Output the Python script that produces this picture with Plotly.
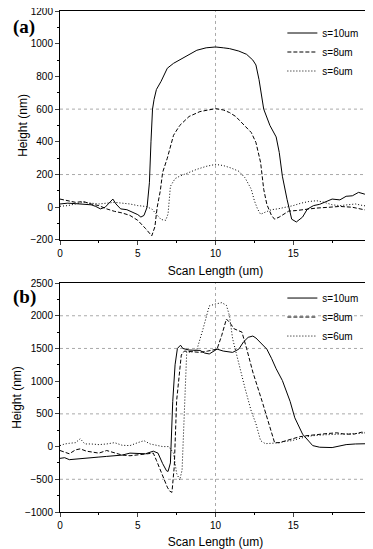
import plotly.graph_objects as go

# ---------------- data ----------------
xa10 = [0, 0.5, 1, 1.5, 2, 2.3, 2.6, 2.9, 3.2, 3.4, 3.6, 3.9, 4.3, 4.7, 5.0, 5.2, 5.4, 5.6, 5.75, 5.85, 5.95, 6.05,
        6.2, 6.5, 6.9, 7.3, 7.7, 8.2, 8.8, 9.4, 10, 10.5, 10.9, 11.5, 12.0, 12.4, 12.6, 12.8, 13.1, 13.5, 13.9, 14.1,
        14.3, 14.6, 14.9, 15.2, 15.6, 15.9, 16.3, 16.7, 17.1, 17.5, 18.0, 18.4, 18.8, 19.2, 19.6, 20]
ya10 = [20, 25, 22, 20, 15, 5, -10, 0, 30, 50, 20, -10, -15, -30, -45, -60, -50, 0, 150, 400, 600, 660,
        720, 770, 850, 880, 902, 925, 960, 975, 980, 975, 970, 955, 935, 900, 870, 780, 600, 500, 430, 335,
        190, 49, -73, -90, -60, -12, 10, 18, 35, 50, 45, 67, 70, 91, 80, 85]

xa8 = [0, 0.5, 1, 1.5, 2, 2.5, 3, 3.5, 4, 4.5, 5, 5.5, 5.9, 6.1, 6.25, 6.45, 6.6, 6.9, 7.3, 7.7, 8.3, 9.0, 10,
       10.5, 10.9, 11.3, 11.7, 12.0, 12.3, 12.6, 12.9, 13.1, 13.3, 13.6, 13.8, 14.1, 14.7, 15.2, 15.8, 16.5, 17.3,
       18, 18.8, 19.4, 20]
ya8 = [50, 40, 30, 35, 20, 10, -10, -25, -35, -50, -80, -130, -175, -120, 0, 100, 213, 300, 440, 500, 555, 585, 603,
       595, 579, 555, 518, 490, 457, 396, 274, 110, 18, -50, -73, -60, -24, -20, -12, -5, 0,
       5, 0, -10, -24]

xa6 = [0, 0.5, 1, 1.5, 2, 2.5, 3, 3.5, 4, 4.5, 5, 5.5, 5.9, 6.2, 6.5, 6.8, 6.95, 7.1, 7.4, 7.7, 8.3, 8.8, 9.4, 10,
       10.5, 11, 11.5, 11.9, 12.3, 12.5, 12.7, 12.9, 13.2, 13.6, 14, 14.5, 15, 15.5, 16, 16.5, 17, 17.5, 18, 18.5,
       19, 19.5, 20]
ya6 = [6, 10, 20, 30, 25, 20, 25, 30, 25, 20, 10, 5, -10, -40, -75, -80, -40, 128, 175, 190, 213, 232, 250, 262,
       255, 240, 220, 180, 110, 40, -10, -43, -30, -15, -10, 0, 10, 25, 35, 40, 30, 15, 10, 15,
       20, 10, 5]

xb10 = [0, 0.3, 0.6, 1, 1.5, 2, 2.5, 3, 3.5, 4, 4.5, 5, 5.5, 6, 6.3, 6.6, 6.85, 6.95, 7.1, 7.25, 7.4, 7.55, 7.75,
        7.9, 8.3, 9.0, 9.3, 9.6, 10.1, 10.5, 11.1, 11.5, 11.8, 12.1, 12.4, 12.6, 13.0, 13.3, 13.6, 13.9, 14.3, 14.8,
        15.1, 15.6, 16.25, 16.7, 17.5, 18.0, 18.4, 19, 20]
yb10 = [-180, -170, -200, -190, -175, -170, -160, -150, -136, -130, -100, -110, -110, -70, -100, -260, -370, -380,
        -250, 690, 1250, 1500, 1550, 1500, 1476, 1470, 1430, 1416, 1490, 1460, 1440, 1490, 1600, 1670, 1690, 1660,
        1560, 1490, 1350, 1190, 1010, 690, 440, 190, 15, -10, -15, 10, 30, 40, 45]

xb8 = [0, 0.3, 0.6, 1, 1.3, 1.7, 2, 2.5, 3, 3.5, 4, 4.5, 5, 5.5, 6, 6.2, 6.6, 6.9, 7.05, 7.2, 7.35, 7.5, 7.8, 8.0,
       8.5, 9.0, 9.5, 10.1, 10.4, 10.7, 10.9, 11.2, 11.4, 11.7, 12.0, 12.4, 13.0, 13.5, 13.8, 14.1, 14.5, 14.9,
       15.4, 15.8, 16.3, 16.7, 17.2, 17.8, 18.3, 18.9, 19.4, 20]
yb8 = [-60, -90, -110, -50, -35, -70, -80, -100, -60, -100, -130, -140, -130, -110, -100, -210, -460, -620, -680,
       -700, -300, 700, 1400, 1460, 1450, 1440, 1460, 1490, 1700, 1950, 1900, 1800, 1780, 1750, 1500, 1140, 690,
       290, 60, 60, 90, 120, 150, 165, 180, 190, 200, 210, 190, 190, 220, 210]

xb6 = [0, 0.3, 0.6, 1, 1.3, 1.6, 2, 2.5, 3, 3.5, 4, 4.5, 5, 5.4, 5.8, 6.2, 6.6, 7.0, 7.3, 7.5, 7.7, 7.85, 8.0, 8.15,
       8.4, 8.8, 9.2, 9.6, 10.0, 10.4, 10.7, 10.9, 11.1, 11.5, 11.9, 12.3, 12.6, 12.9, 13.2, 13.6, 14.1, 14.5,
       14.9, 15.5, 16.2, 17, 17.8, 18.5, 19.2, 20]
yb6 = [15, 40, 50, 60, 120, 40, 40, 30, 40, 60, 20, 15, 60, 90, 40, 15, 0, 0, -100, -410, -510, -360, 690, 1450,
       1440, 1480, 1800, 2150, 2180, 2200, 2160, 2000, 1650, 1250, 890, 540, 350, 90, 45, 50, 60, 80,
       90, 130, 165, 180, 190, 200, 200, 210]

series_names = ["s=10um", "s=8um", "s=6um"]
dashes = ["solid", "4px,2px", "1px,2px"]

# ---------------- figure ----------------
fig = go.Figure()
panel_a = [(xa10, ya10), (xa8, ya8), (xa6, ya6)]
panel_b = [(xb10, yb10), (xb8, yb8), (xb6, yb6)]
for (x, y), name, d in zip(panel_a, series_names, dashes):
    fig.add_trace(go.Scatter(x=x, y=y, name=name, mode="lines",
                             line=dict(color="black", width=1, dash=d),
                             xaxis="x", yaxis="y", legend="legend"))
for (x, y), name, d in zip(panel_b, series_names, dashes):
    fig.add_trace(go.Scatter(x=x, y=y, name=name, mode="lines",
                             line=dict(color="black", width=1, dash=d),
                             xaxis="x2", yaxis="y2", legend="legend2"))

tickfont = dict(family="Liberation Sans, Arial", size=10, color="black")
titlefont = dict(family="Liberation Sans, Arial", size=12, color="black")

def xax(anchor):
    return dict(range=[0, 20], dtick=5, tick0=0, ticks="outside", ticklen=4, tickwidth=1,
                minor=dict(ticks="outside", ticklen=2, dtick=2.5, tickcolor="black"),
                showline=True, linecolor="black", linewidth=1, mirror=True, showgrid=False,
                zeroline=False, tickfont=tickfont, anchor=anchor, automargin=False,
                ticklabeloverflow="allow",
                title=dict(text="Scan Length (um)", font=titlefont, standoff=8))

def yax(rng, dt, dom, anchor):
    return dict(range=rng, dtick=dt, tick0=0, ticks="outside", ticklen=4, tickwidth=1,
                minor=dict(ticks="outside", ticklen=2, dtick=dt / 2, tickcolor="black"),
                showline=True, linecolor="black", linewidth=1, mirror=True, showgrid=False,
                zeroline=False, tickfont=tickfont, domain=dom, anchor=anchor, automargin=False,
                ticklabeloverflow="allow",
                title=dict(text="Height (nm)", font=titlefont, standoff=0))

legend_common = dict(font=dict(family="Liberation Sans, Arial", size=10, color="black"),
                     bgcolor="rgba(0,0,0,0)", borderwidth=0, tracegroupgap=0,
                     itemwidth=30, xanchor="left", yanchor="top")

# page body has an 8px margin, so the figure is sized/placed to compensate
fig.update_layout(
    width=365, height=541,
    margin=dict(l=52, r=2, t=3, b=37, autoexpand=False),
    paper_bgcolor="white", plot_bgcolor="white",
    xaxis=xax("y"),
    yaxis=yax([-200, 1200], 200, [0.543, 1.0], "x"),
    xaxis2=xax("y2"),
    yaxis2=yax([-1000, 2500], 500, [0.0, 0.457], "x2"),
    legend=dict(x=0.715, y=0.985, **legend_common),
    legend2=dict(x=0.715, y=0.456, **legend_common),
    showlegend=True,
)

grid_style = dict(color="#aaaaaa", width=1, dash="dot")
for yv in [200, 600]:
    fig.add_shape(type="line", xref="x", yref="y", x0=0, x1=20, y0=yv, y1=yv, line=grid_style, layer="below")
fig.add_shape(type="line", xref="x", yref="y", x0=10, x1=10, y0=-200, y1=1200, line=grid_style, layer="below")
for yv in [2000, 1500, 500, -500]:
    fig.add_shape(type="line", xref="x2", yref="y2", x0=0, x1=20, y0=yv, y1=yv, line=grid_style, layer="below")
fig.add_shape(type="line", xref="x2", yref="y2", x0=10, x1=10, y0=-1000, y1=2500, line=grid_style, layer="below")

labfont = dict(family="Liberation Serif, Times New Roman", size=19, color="black")
fig.add_annotation(text="<b>(a)</b>", xref="paper", yref="paper", x=-0.115, y=0.995,
                   xanchor="center", yanchor="top", showarrow=False, font=labfont)
fig.add_annotation(text="<b>(b)</b>", xref="paper", yref="paper", x=-0.115, y=0.455,
                   xanchor="center", yanchor="top", showarrow=False, font=labfont)

fig.write_html("out.html")
